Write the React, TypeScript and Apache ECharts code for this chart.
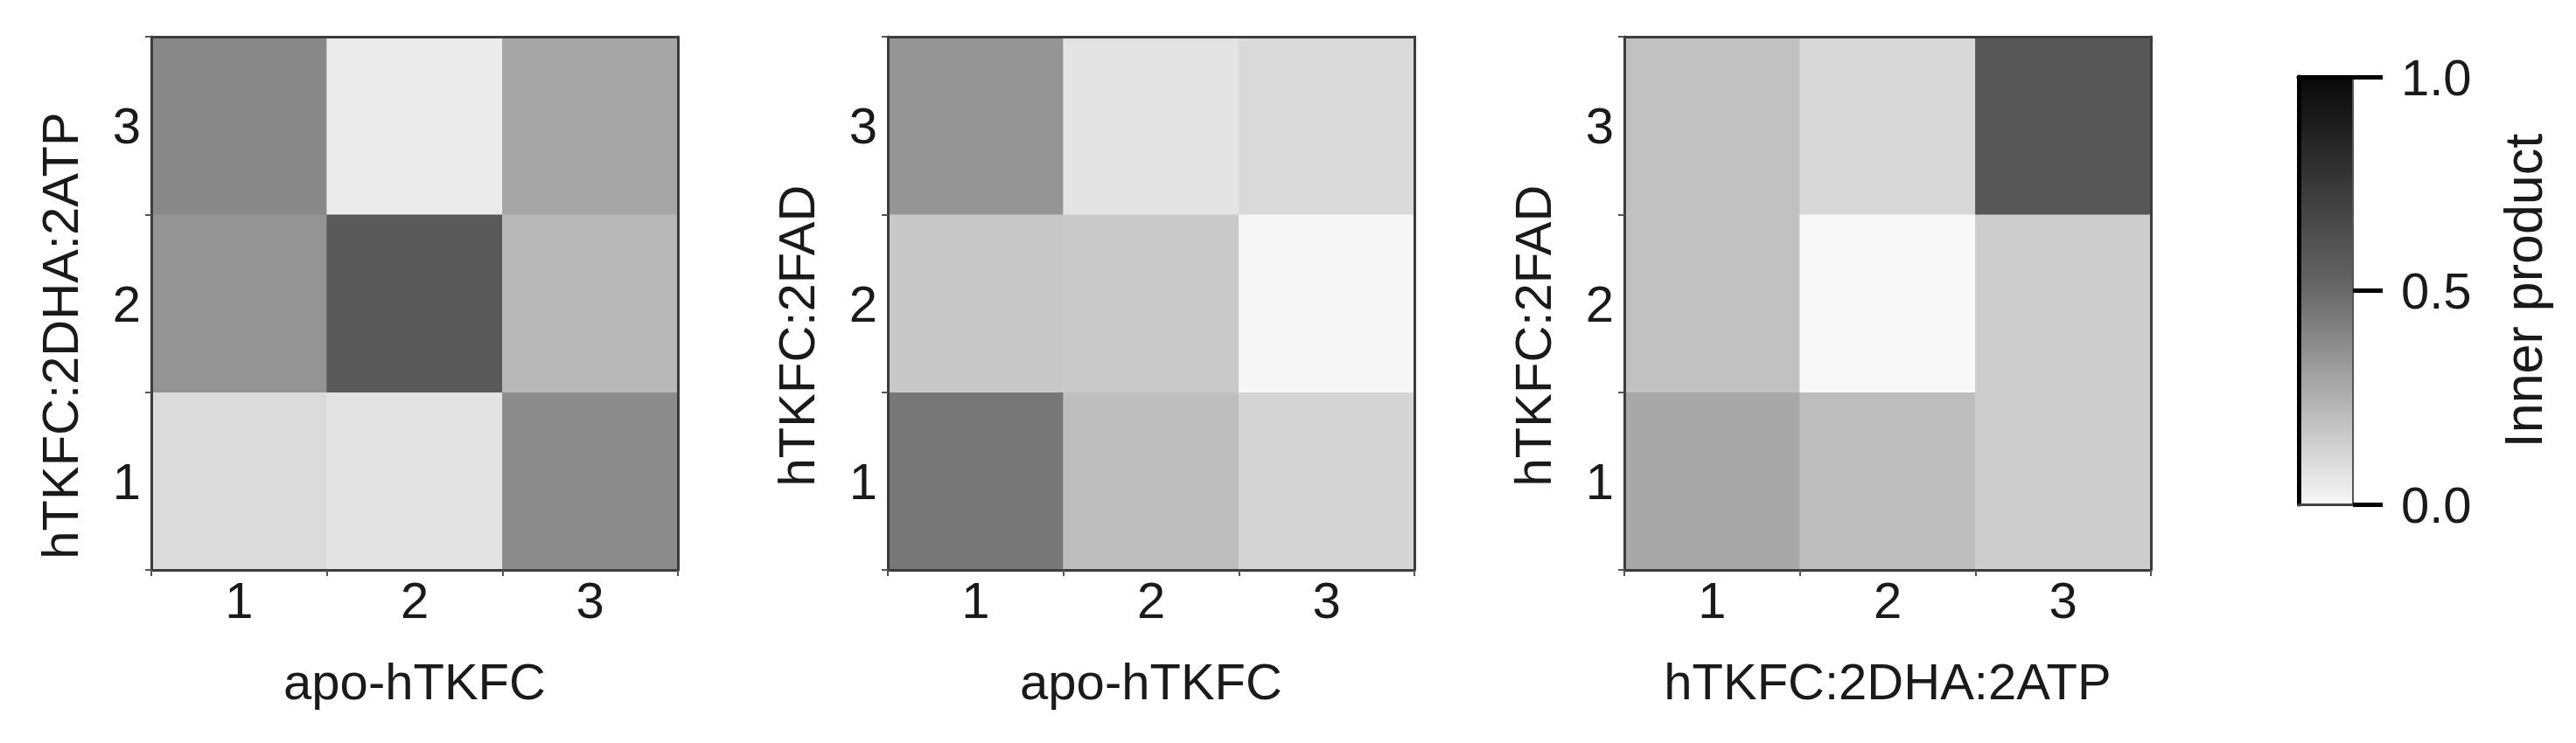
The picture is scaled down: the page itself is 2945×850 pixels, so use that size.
import React, { useEffect, useRef } from "react";
import * as echarts from "echarts";

// ---- data ----
const xCategories = ["1", "2", "3"];
const yCategories = ["1", "2", "3"];

// rows ordered by y category (1 at bottom -> 3 at top), columns by x category 1..3
const panel1Values = [
  [0.1, 0.07, 0.375],
  [0.347, 0.578, 0.222],
  [0.389, 0.045, 0.285],
];
const panel2Values = [
  [0.448, 0.201, 0.122],
  [0.167, 0.16, 0.003],
  [0.344, 0.069, 0.104],
];
const panel3Values = [
  [0.278, 0.205, 0.149],
  [0.191, 0.0, 0.149],
  [0.191, 0.111, 0.589],
];
const panels = [panel1Values, panel2Values, panel3Values];
const xTitles = ["apo-hTKFC", "apo-hTKFC", "hTKFC:2DHA:2ATP"];
const yTitles = ["hTKFC:2DHA:2ATP", "hTKFC:2FAD", "hTKFC:2FAD"];
const colorbarTitle = "Inner product";
const colorbarMin = 0;
const colorbarMax = 1;
const colorbarStep = 0.5;
const grayRamp = ["#f8f8f8", "#b0b0b0", "#686868", "#383838", "#080808"];

const FONT = "Liberation Sans, Arial, sans-serif";
const TXT = "#1a1a1a";
const AXIS = "#3c3c3c";
const FS = 58;

export default function App() {
  const ref = useRef<HTMLDivElement>(null);

  useEffect(() => {
    if (!ref.current) return;
    const chart = echarts.init(ref.current, undefined, { renderer: "svg" });

    const gridLefts = [173, 1015, 1857];
    const grids: any[] = [];
    const xAxes: any[] = [];
    const yAxes: any[] = [];
    const series: any[] = [];

    gridLefts.forEach((left, i) => {
      grids.push({ left, top: 42, width: 602, height: 610, outerBoundsMode: "none", containLabel: false });
      xAxes.push({
        type: "category",
        gridIndex: i,
        position: "bottom",
        data: xCategories,
        z: 10,
        axisLine: { show: true, onZero: false, lineStyle: { color: AXIS, width: 3 } },
        axisTick: { show: true, alignWithLabel: false, length: 7, lineStyle: { color: "#555", width: 2 } },
        axisLabel: { margin: 5, fontSize: FS, fontFamily: FONT, color: TXT },
        splitLine: { show: false },
        name: xTitles[i],
        nameLocation: "middle",
        nameGap: 98,
        nameTextStyle: { fontSize: FS, fontFamily: FONT, color: TXT },
      });
      xAxes.push({
        type: "category",
        gridIndex: i,
        position: "top",
        data: xCategories,
        z: 10,
        axisLine: { show: true, onZero: false, lineStyle: { color: AXIS, width: 3 } },
        axisTick: { show: false },
        axisLabel: { show: false },
        splitLine: { show: false },
      });
      yAxes.push({
        type: "category",
        gridIndex: i,
        position: "left",
        data: yCategories,
        z: 10,
        axisLine: { show: true, onZero: false, lineStyle: { color: AXIS, width: 3 } },
        axisTick: { show: true, alignWithLabel: false, length: 7, lineStyle: { color: "#555", width: 2 } },
        axisLabel: { margin: 12, fontSize: FS, fontFamily: FONT, color: TXT },
        splitLine: { show: false },
        name: yTitles[i],
        nameLocation: "middle",
        nameGap: 76,
        nameTextStyle: { fontSize: FS, fontFamily: FONT, color: TXT, padding: [0, 74, 0, 0] },
      });
      yAxes.push({
        type: "category",
        gridIndex: i,
        position: "right",
        data: yCategories,
        z: 10,
        axisLine: { show: true, onZero: false, lineStyle: { color: AXIS, width: 3 } },
        axisTick: { show: false },
        axisLabel: { show: false },
        splitLine: { show: false },
      });
      const data: any[] = [];
      panels[i].forEach((row, yi) => {
        row.forEach((v, xi) => data.push([xi, yi, v]));
      });
      series.push({
        type: "heatmap",
        xAxisIndex: 2 * i,
        yAxisIndex: 2 * i,
        data,
        itemStyle: { borderWidth: 0 },
        emphasis: { disabled: true },
        label: { show: false },
      });
    });

    // colour bar frame / axis
    const cbLeft = 2628;
    const cbTop = 88;
    const cbWidth = 62;
    const cbHeight = 489;
    grids.push({ left: cbLeft, top: cbTop, width: cbWidth, height: cbHeight, outerBoundsMode: "none", containLabel: false });
    const hidden = { axisTick: { show: false }, axisLabel: { show: false }, splitLine: { show: false } };
    xAxes.push({ type: "value", gridIndex: 3, position: "bottom", min: 0, max: 1, z: 10, axisLine: { show: true, onZero: false, lineStyle: { color: "#444", width: 3 } }, ...hidden });
    xAxes.push({ type: "value", gridIndex: 3, position: "top", min: 0, max: 1, z: 10, axisLine: { show: true, onZero: false, lineStyle: { color: "#000", width: 5 } }, ...hidden });
    yAxes.push({ type: "value", gridIndex: 3, position: "left", min: colorbarMin, max: colorbarMax, z: 10, axisLine: { show: true, onZero: false, lineStyle: { color: "#000", width: 5 } }, ...hidden });
    yAxes.push({
      type: "value",
      gridIndex: 3,
      position: "right",
      min: colorbarMin,
      max: colorbarMax,
      interval: colorbarStep,
      z: 10,
      axisLine: { show: true, onZero: false, lineStyle: { color: "#555", width: 2 } },
      axisTick: { show: true, inside: false, length: 34, lineStyle: { color: "#000", width: 5 } },
      axisLabel: { margin: 55, fontSize: FS, fontFamily: FONT, color: TXT, formatter: (v: number) => v.toFixed(1) },
      splitLine: { show: false },
      name: colorbarTitle,
      nameLocation: "middle",
      nameGap: 164,
      nameTextStyle: { fontSize: 61, fontFamily: FONT, color: TXT },
    });

    chart.setOption({
      animation: false,
      backgroundColor: "#ffffff",
      grid: grids,
      xAxis: xAxes,
      yAxis: yAxes,
      visualMap: {
        type: "continuous",
        min: colorbarMin,
        max: colorbarMax,
        seriesIndex: [0, 1, 2],
        orient: "vertical",
        left: cbLeft,
        top: cbTop,
        itemWidth: cbWidth,
        itemHeight: cbHeight,
        padding: 0,
        calculable: false,
        text: undefined,
        showLabel: false,
        inRange: { color: grayRamp },
      },
      series,
    });

    return () => chart.dispose();
  }, []);

  return (
    <div
      ref={ref}
      style={{ position: "absolute", left: 0, top: 0, width: 2945, height: 850, background: "#fff" }}
    />
  );
}
